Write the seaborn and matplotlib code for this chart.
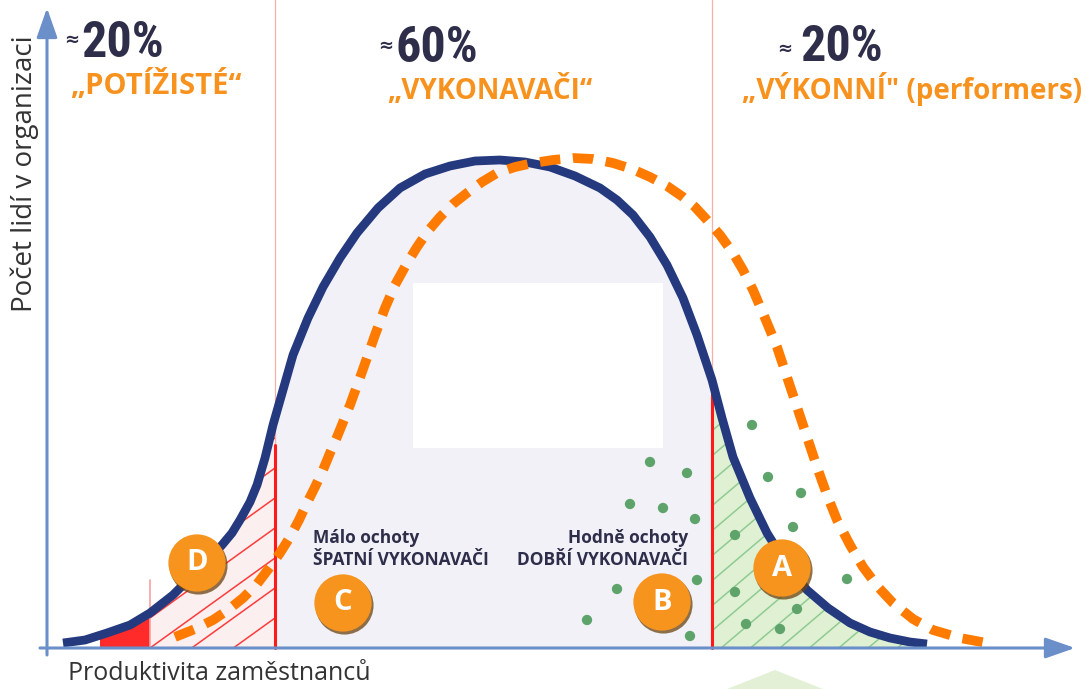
import numpy as np
import matplotlib.pyplot as plt
import seaborn as sns
from matplotlib import font_manager
from matplotlib.patches import Polygon, Rectangle

# x = produktivita, y = počet lidí (počátek v průsečíku os)
blue_x = [16, 38, 60, 83, 103, 126, 149, 163, 175, 185, 193, 203, 210, 218, 226, 236, 246,
          261, 276, 293, 310, 331, 353, 378, 403, 428, 453, 478, 503, 528, 553, 570, 586,
          603, 620, 636, 650, 665, 675, 686, 703, 720, 740, 760, 781, 803, 823, 843, 863, 880]
blue_y = [5, 8, 15, 23, 35, 53, 76, 90, 103, 115, 128, 146, 163, 190, 223, 258, 293,
          330, 361, 390, 415, 440, 460, 474, 482, 487, 488, 486, 481, 472, 460, 448, 433,
          411, 383, 350, 313, 268, 230, 191, 150, 115, 83, 58, 40, 25, 16, 10, 6, 4]

orange_x = [128, 148, 166, 181, 196, 210, 223, 233, 243, 252, 260, 268, 276, 283, 290, 303,
            315, 328, 338, 348, 359, 370, 381, 393, 406, 420, 435, 450, 468, 486, 506, 526,
            546, 566, 585, 603, 620, 636, 648, 660, 673, 686, 696, 706, 718, 730, 740, 750,
            760, 770, 780, 790, 803, 816, 831, 846, 866, 886, 913, 940]
orange_y = [11, 19, 28, 38, 50, 64, 81, 95, 111, 128, 145, 161, 178, 195, 211, 243,
            276, 313, 340, 363, 383, 401, 417, 431, 444, 455, 466, 475, 481, 485, 488, 490,
            489, 485, 479, 471, 462, 451, 441, 428, 413, 395, 378, 358, 330, 301, 271, 241,
            211, 181, 153, 128, 103, 81, 61, 45, 29, 18, 10, 5]

# hranice skupin na ose produktivity
red_start, d_start, c_start, a_start = 53, 103, 228, 665

# zelené tečky (výkonní lidé)
dot_x = [603, 640, 583, 616, 648, 650, 570, 540, 643, 705, 721, 754, 746, 688, 688, 699, 733, 750, 800]
dot_y = [186, 175, 144, 140, 129, 68, 59, 28, 12, 223, 171, 155, 121, 113, 56, 24, 19, 39, 69]

letters = ['D', 'C', 'B', 'A']
letter_x = [150, 296, 615, 735]
letter_y = [85, 45, 46, 80]

shares = ['20%', '60%', '20%']
groups = ['„POTÍŽISTÉ“', '„VYKONAVAČI“', '„VÝKONNÍ" (performers)']


def pick_font(*names):
    have = {f.name for f in font_manager.fontManager.ttflist}
    for n in names:
        if n in have:
            return n
    return 'DejaVu Sans'


def region(a, b):
    xs = np.array(blue_x, float)
    ys = np.array(blue_y, float)
    inside = (xs > a) & (xs < b)
    px = [a] + list(xs[inside]) + [b, b, a]
    py = [np.interp(a, xs, ys)] + list(ys[inside]) + [np.interp(b, xs, ys), 0, 0]
    return np.column_stack([px, py])


def hatch(ax, patch, a, b, slope, step, color):
    top = max(blue_y)
    for c in np.arange(-slope * (b - a), top, step):
        xx = np.array([a, b])
        line, = ax.plot(xx, c + slope * (xx - a), color=color, lw=1.1, zorder=2)
        line.set_clip_path(patch)


sns.set_theme(style='white')
sans = pick_font('Open Sans', 'Noto Sans', 'DejaVu Sans')
narrow = pick_font('Liberation Sans Narrow', 'Roboto Condensed', 'DejaVu Sans')
plt.rcParams['font.family'] = [sans, 'DejaVu Sans']

navy = '#253a7e'
dark = '#2e2e4a'
orange = '#ff7b00'
label_orange = '#f7921e'
axis_c = '#6b8fc9'

fig = plt.figure(figsize=(10.85, 6.89), dpi=100)
ax = fig.add_axes([0, 0, 1, 1])
ax.set_xlim(-47, 1038)
ax.set_ylim(-41, 648)
ax.axis('off')

# výplně pod křivkou
p_red = Polygon(region(red_start, d_start), closed=True, fc='#ff2a2a', ec='none', zorder=1)
p_pink = Polygon(region(d_start, c_start), closed=True, fc='#fcefef', ec='none', zorder=1)
p_mid = Polygon(region(c_start, a_start), closed=True, fc='#f1f1f7', ec='none', zorder=1)
p_green = Polygon(region(a_start, blue_x[-1]), closed=True, fc='#dff0d3', ec='none', zorder=1)
for p in (p_red, p_pink, p_mid, p_green):
    ax.add_patch(p)
hatch(ax, p_pink, d_start, c_start, 0.72, 30, '#ff3b3b')
hatch(ax, p_green, a_start, blue_x[-1], 0.85, 25, '#8fcb92')

# prázdné bílé pole uprostřed
ax.add_patch(Rectangle((366, 200), 250, 165, fc='white', ec='none', zorder=1.5))

# dělicí čáry
for xv in (c_start, a_start):
    ax.plot([xv, xv], [0, 648], color='#f6b0a8', lw=0.9, zorder=1.6)
ax.plot([d_start, d_start], [0, 68], color='#f7a0a0', lw=1.2, zorder=2.5)
ax.plot([c_start, c_start], [0, 203], color='#ff1a1a', lw=2.2, zorder=2.5)
ax.plot([a_start, a_start], [0, 263], color='#ff1a1a', lw=2.2, zorder=2.5)

sns.scatterplot(x=dot_x, y=dot_y, color='#5da36a', s=55, edgecolor='none', zorder=3, ax=ax)

sns.lineplot(x=blue_x, y=blue_y, sort=False, estimator=None, color=navy, lw=6.3,
             solid_capstyle='butt', solid_joinstyle='round', zorder=4, ax=ax)
sns.lineplot(x=orange_x, y=orange_y, sort=False, estimator=None, color=orange, lw=7,
             linestyle=(0, (2.1, 1.3)), dash_capstyle='butt', dash_joinstyle='round',
             zorder=5, ax=ax)

# kolečka s písmeny
ax.scatter(np.array(letter_x) + 1.5, np.array(letter_y) - 2.5, s=1750, color='#6b4210',
           alpha=0.75, edgecolor='none', zorder=6)
sns.scatterplot(x=letter_x, y=letter_y, s=1700, color='#f7941d', edgecolor='none', zorder=6.5, ax=ax)
for lt, lx, ly in zip(letters, letter_x, letter_y):
    ax.text(lx, ly, lt, color='white', fontsize=21, fontweight='bold', ha='center',
            va='center', zorder=7)

# popisky skupin
ax.text(266, 105, 'Málo ochoty', color=dark, fontsize=12.5, fontweight='bold', va='baseline')
ax.text(266, 83, 'ŠPATNÍ VYKONAVAČI', color=dark, fontsize=12.5, fontweight='bold', va='baseline')
ax.text(641, 105, 'Hodně ochoty', color=dark, fontsize=12.5, fontweight='bold', va='baseline', ha='right')
ax.text(641, 83, 'DOBŘÍ VYKONAVAČI', color=dark, fontsize=12.5, fontweight='bold', va='baseline', ha='right')

# záhlaví
share_pos = [(34, 591), (348, 586), (753, 587)]
approx_pos = [(32, 608), (346, 602), (745, 599)]
group_pos = [(23, 554), (340, 549), (695, 549)]
group_size = [21, 20, 20]
for s, g, (sx, sy), (ax_, ay), (gx, gy), gs in zip(shares, groups, share_pos, approx_pos,
                                                   group_pos, group_size):
    ax.text(sx, sy, s, color=dark, fontsize=36, fontweight='bold', family=[narrow, 'DejaVu Sans'],
            va='baseline')
    ax.text(ax_, ay, '≈', color=dark, fontsize=13, fontweight='bold', ha='right', va='center',
            family=['DejaVu Sans'])
    ax.text(gx, gy, g, color=label_orange, fontsize=gs, fontweight='bold', va='baseline')

# osy
arrow = dict(arrowstyle='-|>,head_length=1.0,head_width=0.35', color=axis_c, lw=2.2,
             mutation_scale=18, shrinkA=0, shrinkB=0)
ax.annotate('', xy=(1028, 0), xytext=(-7, 0), arrowprops=arrow, zorder=8)
ax.annotate('', xy=(0, 640), xytext=(0, -7), arrowprops=arrow, zorder=8)

ax.text(-22, 474, 'Počet lidí v organizaci', rotation=90, color='#333333', fontsize=20,
        ha='center', va='center')
ax.text(21, -32, 'Produktivita zaměstnanců', color='#333333', fontsize=18, va='baseline')

# náznak zelené šipky pod osou
ax.add_patch(Polygon([(680, -41), (728, -22), (776, -41)], closed=True, fc='#e3f0d6', ec='none'))

fig.savefig('out.png', dpi=100)
